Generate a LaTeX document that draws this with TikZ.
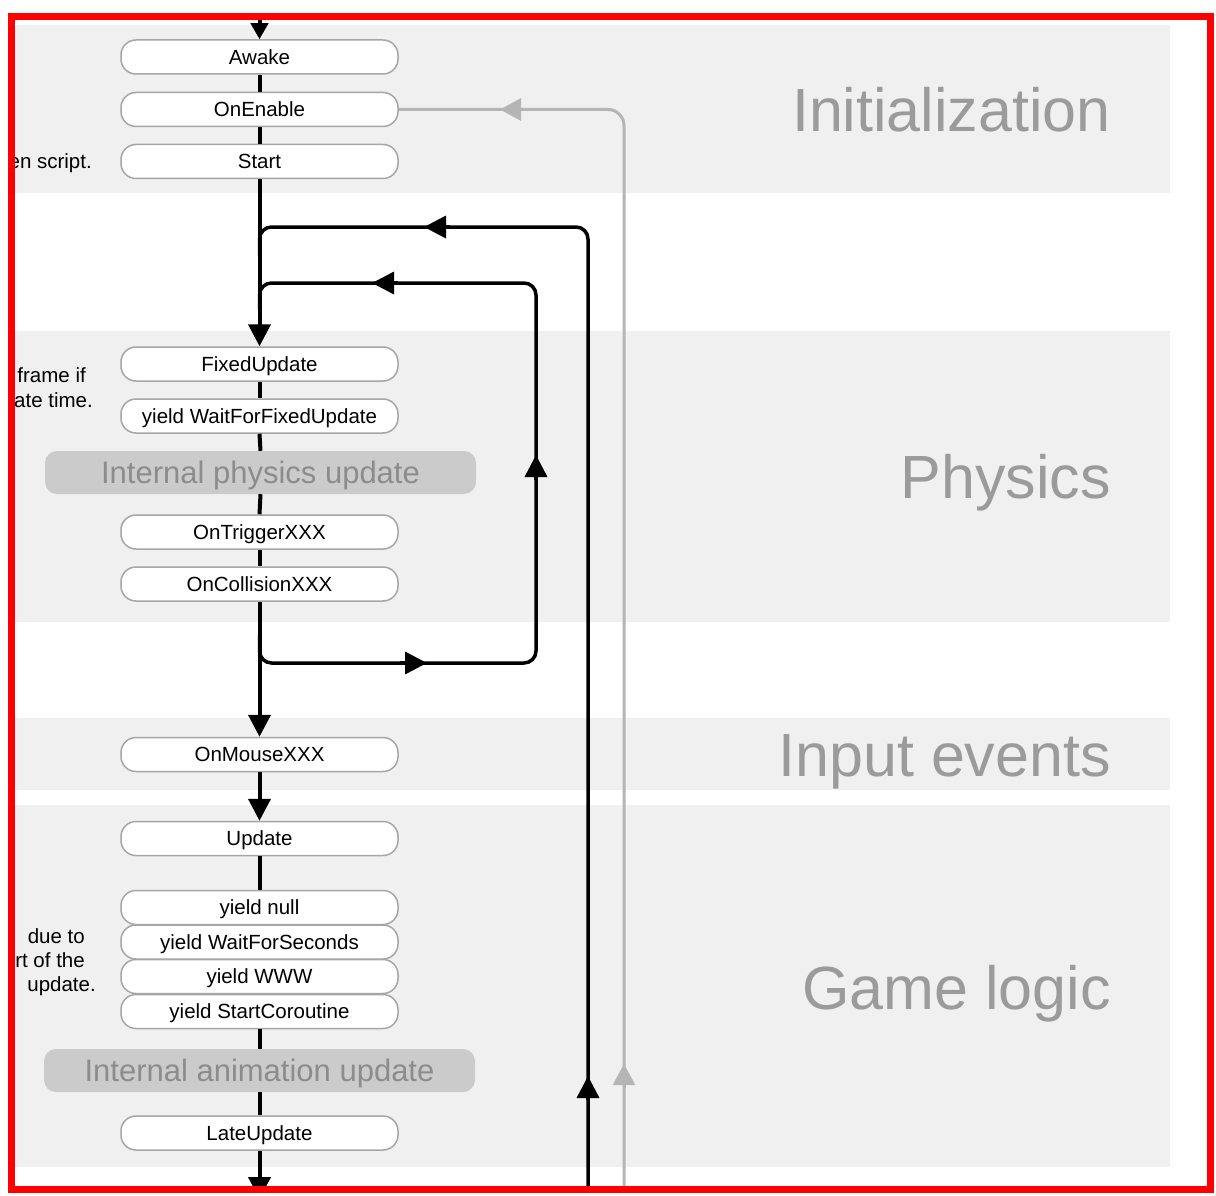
\documentclass[tikz,border=0pt]{standalone}
\usepackage{fontspec}
\setmainfont{Liberation Sans}
\usetikzlibrary{arrows.meta}
\definecolor{bandgray}{HTML}{F0F0F0}
\definecolor{boxline}{HTML}{A6A6A6}
\definecolor{intfill}{HTML}{CBCBCB}
\definecolor{inttext}{HTML}{8C8C8C}
\definecolor{secgray}{HTML}{9B9B9B}
\definecolor{loopgray}{HTML}{B5B5B5}
\definecolor{framered}{HTML}{FF0000}
\tikzset{
  fn/.style={draw=boxline, line width=1.5pt, fill=white, rounded corners=15pt,
    minimum width=277pt, minimum height=34pt, inner sep=0pt,
    text height=14.5pt, text depth=0pt, font=\fontsize{20.5}{24}\selectfont},
  internal/.style={fill=intfill, rounded corners=12pt, minimum width=431pt,
    minimum height=43pt, inner sep=0pt, text=inttext,
    text height=22pt, text depth=0pt, font=\fontsize{31}{36}\selectfont},
  sect/.style={anchor=east, text=secgray, inner sep=0pt,
    text height=44pt, text depth=0pt, font=\fontsize{61}{70}\selectfont},
  note/.style={anchor=east, inner sep=0pt, text height=14.5pt, text depth=0pt,
    font=\fontsize{20.5}{24}\selectfont},
  flow/.style={line width=4pt, draw=black},
  loopflow/.style={line width=3.5pt, draw=black},
  grayflow/.style={line width=3pt, draw=loopgray},
  bigtip/.style={-{Triangle[length=22pt,width=22pt]}},
  smalltip/.style={-{Triangle[length=16pt,width=17pt]}},
  band/.style={fill=bandgray},
}
\begin{document}
\begin{tikzpicture}[x=1pt,y=-1pt]
\useasboundingbox (0,0) rectangle (1216,1196);
\fill[white] (0,0) rectangle (1216,1196);
\begin{scope}
\clip (12,17) rectangle (1210,1189);
% bands
\fill[band] (12,25) rectangle (1170,193);
\fill[band] (12,331) rectangle (1170,622);
\fill[band] (12,718) rectangle (1170,790);
\fill[band] (12,805) rectangle (1170,1167);

% section labels
\node[sect] (lblinit) at (1111,110) {Initialization};
\node[sect] (lblphys) at (1111,476) {Physics};
\node[sect] (lblinput) at (1111,754) {Input events};
\node[sect] (lblgame) at (1111,987) {Game logic};

% notes (cut off at the left)
\node[note] (n1) at (92,161) {en script.};
\node[note] (n2) at (86,375) {frame if};
\node[note] (n3) at (93,400) {ate time.};
\node[note] (n4) at (85,936) {due to};
\node[note] (n5) at (85,960) {rt of the};
\node[note] (n6) at (96,984) {update.};

% boxes
\node[fn] (awake) at (259.5,57) {Awake};
\node[fn] (onenable) at (259.5,109.5) {OnEnable};
\node[fn] (start) at (259.5,161.5) {Start};
\node[fn] (fixed) at (259.5,364) {FixedUpdate};
\node[fn] (yfixed) at (259.5,416) {yield WaitForFixedUpdate};
\node[internal] (physint) at (260.5,472.5) {Internal physics update};
\node[fn] (trigger) at (259.5,532) {OnTriggerXXX};
\node[fn] (collision) at (259.5,584) {OnCollisionXXX};
\node[fn] (mouse) at (259.5,754.5) {OnMouseXXX};
\node[fn] (update) at (259.5,838.5) {Update};
\node[fn] (ynull) at (259.5,907.5) {yield null};
\node[fn] (ysec) at (259.5,942) {yield WaitForSeconds};
\node[fn] (ywww) at (259.5,976.5) {yield WWW};
\node[fn] (ycor) at (259.5,1011.5) {yield StartCoroutine};
\node[internal] (animint) at (259.5,1070.5) {Internal animation update};
\node[fn] (late) at (259.5,1133) {LateUpdate};

% coordinates
\coordinate (entry) at (259.5,0);
\coordinate (exit) at (259.5,1199);
\coordinate (oa) at (588,1196);
\coordinate (ob) at (588,227);
\coordinate (oc) at (259.5,227);
\coordinate (od) at (259.5,255);
\coordinate (ia) at (259.5,635);
\coordinate (ib) at (259.5,663);
\coordinate (ic) at (536,663);
\coordinate (id) at (536,283);
\coordinate (ie) at (259.5,283);
\coordinate (if) at (259.5,310);
\coordinate (ga) at (624,109.5);
\coordinate (gb) at (624,1196);

% main flow
\draw[flow,smalltip] (entry) -- (awake.north);
\draw[flow] (awake.south) -- (onenable.north);
\draw[flow] (onenable.south) -- (start.north);
\draw[flow,bigtip] (start.south) -- (fixed.north);
\draw[flow] (fixed.south) -- (yfixed.north);
\draw[flow] (yfixed.south) -- (physint.north);
\draw[flow] (physint.south) -- (trigger.north);
\draw[flow] (trigger.south) -- (collision.north);
\draw[flow,bigtip] (collision.south) -- (mouse.north);
\draw[flow,bigtip] (mouse.south) -- (update.north);
\draw[flow] (update.south) -- (ynull.north);
\draw[flow] (ycor.south) -- (animint.north);
\draw[flow] (animint.south) -- (late.north);
\draw[flow,bigtip] (late.south) -- (exit);

% loops
\draw[loopflow,rounded corners=12pt] (oa) -- (ob) -- (oc) -- (od);
\draw[loopflow,rounded corners=12pt] (ia) -- (ib) -- (ic) -- (id) -- (ie) -- (if);
\draw[grayflow,rounded corners=16pt] (onenable.east) -- (ga) -- (gb);

% arrowheads on loops
\coordinate (oh1s) at (588,1100); \coordinate (oh1e) at (588,1076);
\coordinate (oh2s) at (450,227); \coordinate (oh2e) at (424,227);
\coordinate (ih1s) at (400,663); \coordinate (ih1e) at (427,663);
\coordinate (ih2s) at (536,480); \coordinate (ih2e) at (536,455);
\coordinate (ih3s) at (398,283); \coordinate (ih3e) at (372,283);
\coordinate (gh1s) at (525,109.5); \coordinate (gh1e) at (500,109.5);
\coordinate (gh2s) at (624,1088); \coordinate (gh2e) at (624,1064);
\draw[loopflow,bigtip] (oh1s) -- (oh1e);
\draw[loopflow,bigtip] (oh2s) -- (oh2e);
\draw[loopflow,bigtip] (ih1s) -- (ih1e);
\draw[loopflow,bigtip] (ih2s) -- (ih2e);
\draw[loopflow,bigtip] (ih3s) -- (ih3e);
\draw[grayflow,-{Triangle[length=21pt,width=22pt]}] (gh1s) -- (gh1e);
\draw[grayflow,-{Triangle[length=21pt,width=22pt]}] (gh2s) -- (gh2e);
\end{scope}

% red frame
\draw[framered, line width=7pt] (11.5,16.5) rectangle (1210.5,1189.5);
\end{tikzpicture}
\end{document}
